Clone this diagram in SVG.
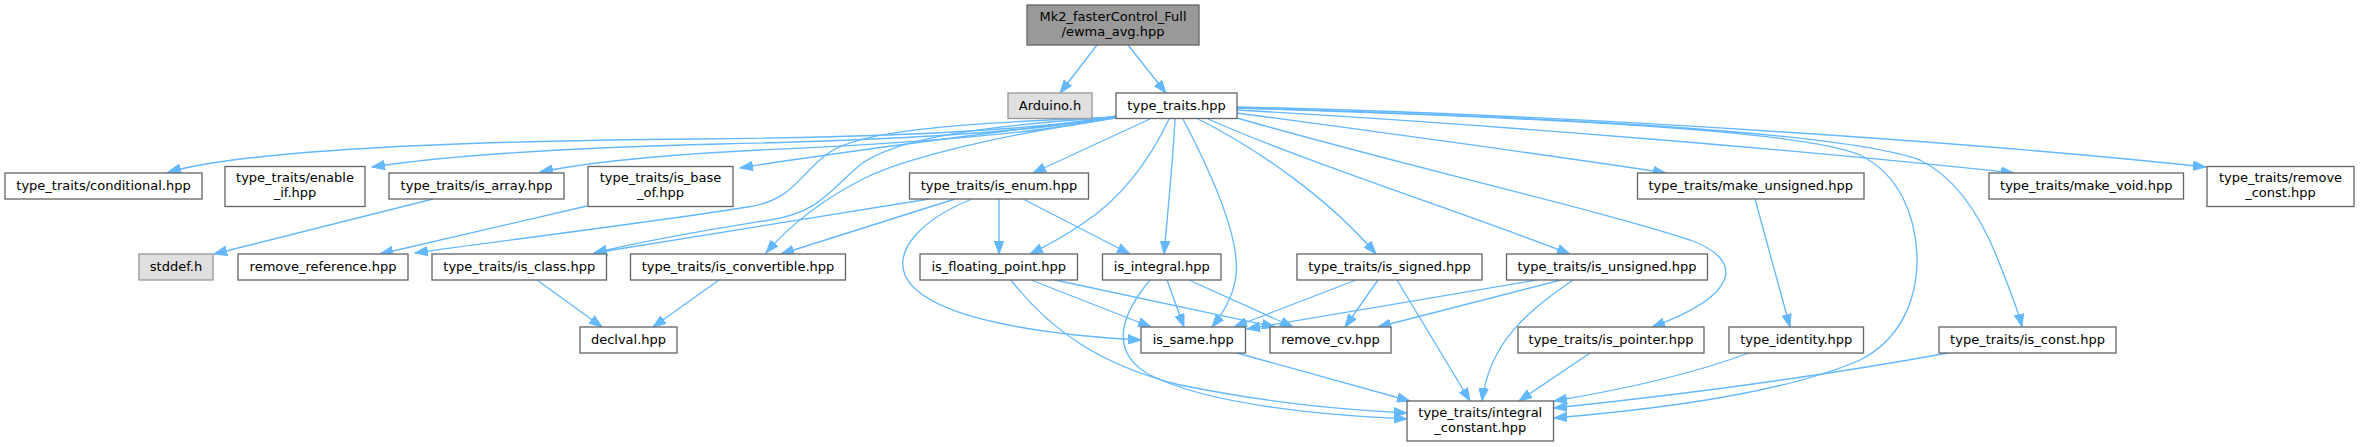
<svg xmlns="http://www.w3.org/2000/svg" width="2361" height="447" viewBox="0 0 2361 447">
<style>
.n rect{fill:#ffffff;stroke:#666666;stroke-width:1.33}
.m rect{fill:#999999;stroke:#666666;stroke-width:1.33}
.x rect{fill:#e0e0e0;stroke:#999999;stroke-width:1.33}
text{font-family:"DejaVu Sans","Liberation Sans",sans-serif;font-size:13px;fill:#000000;text-anchor:middle}
#edges path{fill:none;stroke:#63b8ff;stroke-width:1.33;marker-end:url(#ah)}
</style>
<defs>
<marker id="ah" markerUnits="userSpaceOnUse" markerWidth="14" markerHeight="10" refX="13" refY="5" orient="auto"><path d="M0,0.3 L13,5 L0,9.7 z" fill="#63b8ff" stroke="#63b8ff" stroke-width="1"/></marker>
</defs>
<rect width="2361" height="447" fill="#ffffff"/>
<g id="edges">
<path d="M1097,45 L1060,93"/>
<path d="M1128,45 L1166,93"/>
<path d="M1116,116 C1040,130 900,137 700,139 C450,141 250,150 168,172"/>
<path d="M1116,116 C1040,132 900,140 720,144 C560,148 450,155 372,167"/>
<path d="M1116,117 C1040,134 900,144 760,150 C660,155 590,162 540,172"/>
<path d="M1116,117 C1000,132 850,150 740,168"/>
<path d="M1116,117 C940,124 860,132 830,152 C800,172 795,200 748,207 C640,224 490,242 415,253"/>
<path d="M1116,117 C960,127 890,142 860,165 C830,190 820,212 770,220 C700,231 640,242 594,253"/>
<path d="M1116,118 C1000,135 905,158 865,178 C825,198 790,225 766,253"/>
<path d="M1150,119 L1033,173"/>
<path d="M1169,119 C1150,160 1120,200 1082,224 C1065,236 1048,245 1030,254"/>
<path d="M1175,119 C1173,160 1168,210 1164,254"/>
<path d="M1183,119 C1215,180 1240,240 1236,275 C1234,295 1224,312 1212,327"/>
<path d="M1198,119 C1260,150 1330,200 1376,254"/>
<path d="M1208,119 C1300,160 1470,215 1570,254"/>
<path d="M1237,118 C1400,165 1600,210 1690,240 C1745,260 1740,295 1652,327"/>
<path d="M1237,113 C1400,135 1550,155 1666,173"/>
<path d="M1237,110 C1500,125 1800,150 2014,173"/>
<path d="M1237,107 C1600,115 2000,145 2206,167"/>
<path d="M1237,108 C1600,118 1850,135 1920,160 C1960,180 1985,225 2000,265 C2010,290 2018,310 2022,327"/>
<path d="M1237,108 C1550,118 1800,130 1860,155 C1900,175 1915,215 1917,255 C1918,300 1900,340 1860,360 C1780,395 1650,410 1554,418"/>
<path d="M433,199 L214,254"/>
<path d="M587,206 L380,254"/>
<path d="M929,199 L594,253"/>
<path d="M955,199 L781,254"/>
<path d="M999,199 L999,254"/>
<path d="M1023,199 L1130,254"/>
<path d="M972,199 C920,220 895,250 905,275 C925,320 1050,335 1141,340"/>
<path d="M537,280 L602,327"/>
<path d="M719,280 L653,327"/>
<path d="M1031,280 L1151,327"/>
<path d="M1055,280 L1275,327"/>
<path d="M1011,280 C1050,330 1100,365 1180,385 C1280,405 1350,410 1407,413"/>
<path d="M1167,280 L1184,327"/>
<path d="M1189,280 L1293,327"/>
<path d="M1150,280 C1125,310 1105,350 1150,375 C1210,405 1320,415 1407,419"/>
<path d="M1356,280 L1234,327"/>
<path d="M1378,280 L1345,327"/>
<path d="M1397,280 L1470,401"/>
<path d="M1537,280 L1247,329"/>
<path d="M1561,280 L1378,327"/>
<path d="M1573,280 C1530,310 1490,340 1482,401"/>
<path d="M1237,353 L1410,401"/>
<path d="M1590,353 L1519,401"/>
<path d="M1749,353 C1690,375 1620,390 1554,401"/>
<path d="M1948,353 C1800,380 1650,398 1554,408"/>
<path d="M1755,199 L1790,327"/>
</g>
<g id="mk2" class="m"><rect x="1027" y="5" width="172" height="40"/><text x="1113" y="20.5">Mk2_fasterControl_Full</text><text x="1113" y="35.5">/ewma_avg.hpp</text></g>
<g id="arduino" class="x"><rect x="1008" y="93" width="84" height="25.5"/><text x="1050" y="110">Arduino.h</text></g>
<g id="type_traits" class="n"><rect x="1116" y="93" width="121" height="25.5"/><text x="1176.5" y="110">type_traits.hpp</text></g>
<g id="conditional" class="n"><rect x="5" y="173" width="197" height="26"/><text x="103.5" y="190">type_traits/conditional.hpp</text></g>
<g id="enable_if" class="n"><rect x="225" y="166.5" width="140" height="40"/><text x="295" y="182">type_traits/enable</text><text x="295" y="197">_if.hpp</text></g>
<g id="is_array" class="n"><rect x="389" y="173" width="175" height="26"/><text x="476.5" y="190">type_traits/is_array.hpp</text></g>
<g id="is_base_of" class="n"><rect x="588" y="166.5" width="145" height="40"/><text x="660.5" y="182">type_traits/is_base</text><text x="660.5" y="197">_of.hpp</text></g>
<g id="is_enum" class="n"><rect x="909.5" y="173" width="179" height="26"/><text x="999" y="190">type_traits/is_enum.hpp</text></g>
<g id="make_unsigned" class="n"><rect x="1637.5" y="173" width="226.5" height="26"/><text x="1750.75" y="190">type_traits/make_unsigned.hpp</text></g>
<g id="make_void" class="n"><rect x="1989" y="173" width="194.5" height="26"/><text x="2086.25" y="190">type_traits/make_void.hpp</text></g>
<g id="remove_const" class="n"><rect x="2207" y="166.5" width="147" height="40"/><text x="2280.5" y="182">type_traits/remove</text><text x="2280.5" y="197">_const.hpp</text></g>
<g id="stddef" class="x"><rect x="139" y="254" width="74" height="26"/><text x="176" y="271">stddef.h</text></g>
<g id="remove_reference" class="n"><rect x="238" y="254" width="170" height="26"/><text x="323" y="271">remove_reference.hpp</text></g>
<g id="is_class" class="n"><rect x="432" y="254" width="174.5" height="26"/><text x="519.25" y="271">type_traits/is_class.hpp</text></g>
<g id="is_convertible" class="n"><rect x="630.5" y="254" width="215" height="26"/><text x="738" y="271">type_traits/is_convertible.hpp</text></g>
<g id="is_floating_point" class="n"><rect x="920" y="254" width="157.5" height="26"/><text x="998.75" y="271">is_floating_point.hpp</text></g>
<g id="is_integral" class="n"><rect x="1102.5" y="254" width="118.5" height="26"/><text x="1161.75" y="271">is_integral.hpp</text></g>
<g id="is_signed" class="n"><rect x="1297" y="254" width="185" height="26"/><text x="1389.5" y="271">type_traits/is_signed.hpp</text></g>
<g id="is_unsigned" class="n"><rect x="1506.5" y="254" width="201" height="26"/><text x="1607" y="271">type_traits/is_unsigned.hpp</text></g>
<g id="declval" class="n"><rect x="580" y="327" width="97" height="26"/><text x="628.5" y="344">declval.hpp</text></g>
<g id="is_same" class="n"><rect x="1141" y="327" width="104.5" height="26"/><text x="1193.25" y="344">is_same.hpp</text></g>
<g id="remove_cv" class="n"><rect x="1270" y="327" width="121" height="26"/><text x="1330.5" y="344">remove_cv.hpp</text></g>
<g id="is_pointer" class="n"><rect x="1518" y="327" width="186" height="26"/><text x="1611" y="344">type_traits/is_pointer.hpp</text></g>
<g id="type_identity" class="n"><rect x="1729" y="327" width="134.5" height="26"/><text x="1796.25" y="344">type_identity.hpp</text></g>
<g id="is_const" class="n"><rect x="1939" y="327" width="177" height="26"/><text x="2027.5" y="344">type_traits/is_const.hpp</text></g>
<g id="integral_constant" class="n"><rect x="1407" y="401" width="146.5" height="40"/><text x="1480.25" y="416.5">type_traits/integral</text><text x="1480.25" y="431.5">_constant.hpp</text></g>
</svg>
